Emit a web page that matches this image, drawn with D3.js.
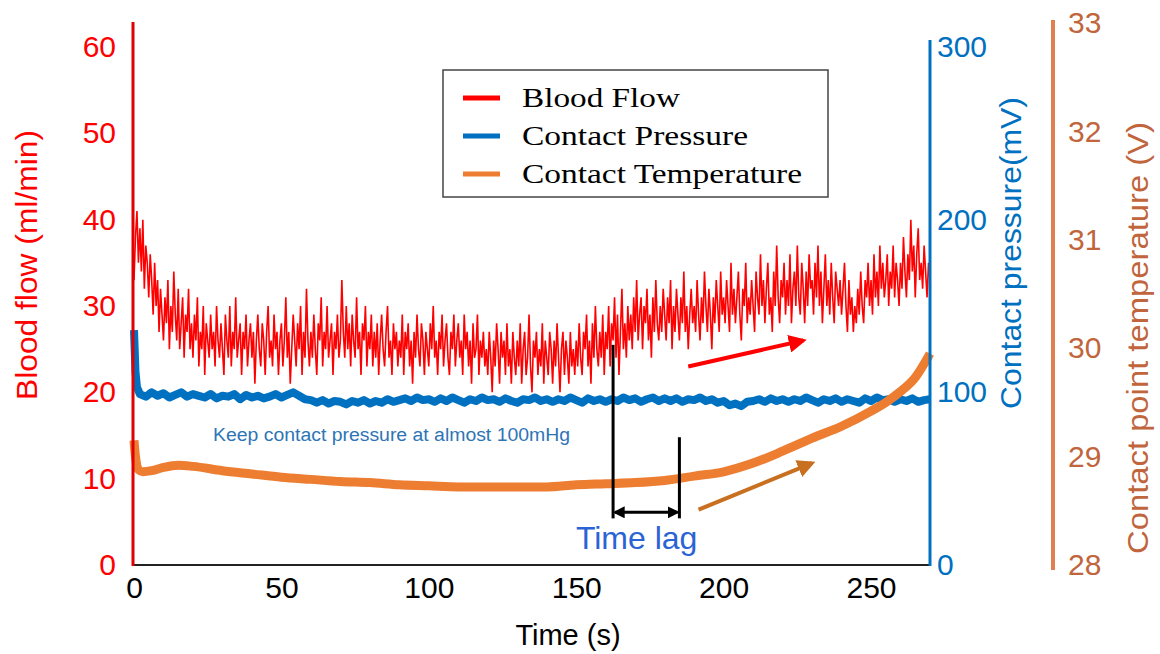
<!DOCTYPE html>
<html>
<head>
<meta charset="utf-8">
<script src="https://cdn.jsdelivr.net/npm/d3@7"></script>
<style>
  body { margin: 0; background: #fff; }
  svg { display: block; }
  text { font-family: "Liberation Sans", Arial, sans-serif; }
</style>
</head>
<body>
<div id="chart"></div>
<script>
// Blood flow (ml/min), one sample every 0.5 s, t = 0..270 (20 per row = 10 s)
const flowValues = [
  33, 38, 41, 35, 39, 34, 40, 32, 37, 35, 31, 36, 33, 29, 35, 30, 33, 27, 32, 29,
  26, 31, 28, 33, 25, 30, 27, 34, 29, 26, 32, 25, 28, 31, 24, 29, 27, 32, 25, 28,
  24, 29, 26, 31, 23, 27, 25, 30, 22, 28, 26, 24, 29, 25, 27, 23, 30, 26, 24, 28,
  25, 22, 29, 26, 24, 30, 23, 27, 25, 31, 24, 26, 28, 22, 27, 25, 29, 23, 26, 28,
  24, 27, 21, 26, 29, 25, 23, 28, 26, 22, 27, 30, 24, 26, 23, 29, 25, 27, 22, 26,
  28, 23, 26, 31, 24, 27, 21, 25, 29, 26, 23, 28, 25, 30, 22, 27, 24, 32, 26, 23,
  27, 24, 29, 25, 22, 28, 26, 31, 23, 27, 25, 30, 24, 26, 28, 22, 27, 25, 29, 24,
  26, 33, 27, 24, 30, 25, 28, 23, 29, 26, 24, 31, 25, 27, 22, 28, 26, 30, 23, 27,
  25, 29, 23, 27, 24, 28, 22, 26, 29, 25, 23, 27, 30, 24, 26, 22, 28, 25, 27, 23,
  26, 24, 29, 22, 27, 25, 28, 23, 26, 21, 27, 24, 29, 25, 23, 28, 26, 22, 27, 25,
  23, 28, 25, 30, 24, 26, 22, 27, 25, 29, 23, 26, 28, 24, 22, 27, 25, 29, 23, 26,
  28, 24, 26, 22, 29, 25, 27, 23, 26, 21, 28, 24, 25, 29, 22, 26, 24, 27, 23, 25,
  22, 27, 24, 20, 26, 23, 28, 25, 21, 27, 24, 26, 22, 28, 23, 25, 21, 27, 24, 22,
  26, 23, 28, 21, 25, 27, 22, 24, 29, 23, 20, 26, 24, 27, 22, 25, 23, 28, 21, 26,
  24, 22, 27, 25, 21, 26, 23, 28, 24, 20, 25, 27, 22, 26, 24, 21, 27, 23, 25, 22,
  26, 23, 28, 24, 22, 27, 25, 29, 23, 26, 21, 28, 24, 30, 25, 23, 27, 24, 29, 22,
  27, 25, 30, 23, 28, 26, 31, 24, 29, 22, 27, 32, 25, 28, 24, 30, 26, 29, 25, 31,
  27, 33, 26, 29, 31, 25, 30, 28, 32, 26, 29, 24, 31, 27, 33, 28, 26, 30, 27, 32,
  29, 26, 31, 28, 33, 25, 30, 27, 32, 29, 26, 31, 28, 34, 27, 30, 25, 29, 32, 28,
  30, 27, 33, 29, 26, 31, 28, 34, 30, 27, 32, 29, 25, 31, 28, 33, 30, 27, 34, 29,
  31, 28, 33, 30, 27, 35, 29, 32, 28, 31, 34, 29, 26, 32, 30, 35, 28, 31, 29, 33,
  30, 27, 34, 31, 29, 36, 30, 33, 28, 32, 35, 29, 31, 27, 34, 30, 37, 31, 28, 33,
  31, 35, 29, 33, 30, 36, 28, 32, 34, 30, 37, 31, 29, 35, 32, 28, 34, 30, 36, 32,
  33, 29, 35, 31, 37, 30, 34, 28, 32, 36, 30, 33, 29, 35, 31, 28, 34, 32, 30, 33,
  29, 32, 35, 30, 27, 33, 29, 31, 27, 30, 28, 32, 29, 34, 30, 28, 33, 31, 35, 30,
  33, 29, 36, 31, 34, 30, 37, 32, 35, 31, 33, 36, 30, 34, 32, 37, 31, 35, 33, 30,
  35, 32, 38, 34, 31, 36, 33, 40, 34, 37, 31, 36, 39, 33, 35, 32, 37, 34, 31, 35,
  33
];

// Contact pressure (mV): start spike, then one sample every 2 s from t = 2
const pressureHeadTimes = [0, 0.5, 1];
const pressureHeadValues = [136, 112, 103];
const pressureValues = [
  99, 97.5, 100, 98, 99.5, 97, 98.5, 100, 97.5, 99,
  98, 97, 99, 96.5, 98, 97.5, 99, 96, 98.5, 97,
  98, 96.5, 97.5, 99, 97, 98.5, 100, 98, 96, 95.5,
  94, 95.5, 93.5, 95, 94.5, 93, 95, 94, 95.5, 93.5,
  95, 94, 96, 94.5, 95.5, 96.5, 95, 97, 95.5, 96,
  94.5, 96.5, 95, 97, 95.5, 94, 96, 95, 97, 95.5,
  96, 94.5, 96.5, 95, 94, 96, 95.5, 97, 95, 96,
  94.5, 96, 95, 97, 95.5, 94, 96.5, 95, 96, 94.5,
  96, 95, 97, 95.5, 96.5, 94.5, 96, 97, 95, 96.5,
  95, 96.5, 94.5, 96, 95.5, 97, 95, 96, 94, 95,
  92.5, 93.5, 92, 94.5, 95, 96, 94.5, 96.5, 95, 96,
  94.5, 96, 95, 97, 95.5, 94, 96, 95, 96.5, 94.5,
  96, 95, 94, 96.5, 95, 97, 95.5, 96, 94.5, 96,
  95, 96.5, 94.5, 95.5, 96
];

// Contact temperature
const tempTimes = [0, 0.5, 1.5, 3, 6, 10, 15, 20, 30, 40, 50, 60, 70, 80, 90, 100, 110, 120, 130, 140,
  150, 160, 170, 180, 190, 200, 210, 220, 230, 240, 250, 255, 260, 265, 270];
const tempValues = [29.15, 29.0, 28.88, 28.86, 28.87, 28.9, 28.92, 28.91, 28.87, 28.84, 28.81, 28.79, 28.77,
  28.76, 28.74, 28.73, 28.72, 28.72, 28.72, 28.72, 28.74, 28.75, 28.76, 28.78, 28.82, 28.86, 28.94,
  29.05, 29.17, 29.28, 29.42, 29.5, 29.6, 29.73, 29.95];

const xTicks = [0, 50, 100, 150, 200, 250];
const flowTicks = [0, 10, 20, 30, 40, 50, 60];
const pressureTicks = [0, 100, 200, 300];
const tempTicks = [28, 29, 30, 31, 32, 33];

const legendNames = ["Blood Flow", "Contact Pressure", "Contact Temperature"];

// annotations (data units)
const lagStart = 162.5, lagEnd = 185;
const flowArrow = [[188, 23], [227, 26]];
const tempArrow = [[191.5, 28.51], [230, 28.94]];

const width = 1160, height = 654;
const RED = "#ff0000", BLUE = "#0070c0", ORANGE = "#ed7d31", BROWN = "#c0653c";

const svg = d3.select("#chart").append("svg")
  .attr("width", width).attr("height", height);
svg.append("rect").attr("width", width).attr("height", height).attr("fill", "#fff");

const x = d3.scaleLinear().domain([0, 270]).range([134, 930]);
const yFlow = d3.scaleLinear().domain([0, 60]).range([565, 47]);
const yPress = d3.scaleLinear().domain([0, 300]).range([565, 47]);
const yTemp = d3.scaleLinear().domain([28, 33]).range([565, 23]);

const flowData = flowValues.map((v, i) => [i * 0.5, v]);
const pressData = pressureHeadTimes.map((t, i) => [t, pressureHeadValues[i]])
  .concat(pressureValues.map((v, i) => [2 + i * 2, v]));
const tempData = tempTimes.map((t, i) => [t, tempValues[i]]);

// Series
svg.append("path").datum(pressData)
  .attr("fill", "none").attr("stroke", BLUE).attr("stroke-width", 8)
  .attr("stroke-linejoin", "round")
  .attr("d", d3.line().x(d => x(d[0])).y(d => yPress(d[1])));

svg.append("path").datum(tempData)
  .attr("fill", "none").attr("stroke", ORANGE).attr("stroke-width", 9)
  .attr("d", d3.line().curve(d3.curveMonotoneX).x(d => x(d[0])).y(d => yTemp(d[1])));

svg.append("path").datum(flowData)
  .attr("fill", "none").attr("stroke", RED).attr("stroke-width", 1.6)
  .attr("d", d3.line().x(d => x(d[0])).y(d => yFlow(d[1])));

// Axes
const axisFont = 30;
function styleAxis(g, color) {
  g.select(".domain").remove();
  g.selectAll("text").attr("fill", color).style("font-size", axisFont + "px")
    .style("font-family", "'Liberation Sans', Arial, sans-serif");
}

svg.append("g").attr("transform", "translate(134,0)")
  .call(d3.axisLeft(yFlow).tickValues(flowTicks).tickSize(0).tickPadding(18))
  .call(g => styleAxis(g, RED));

svg.append("g").attr("transform", "translate(930,0)")
  .call(d3.axisRight(yPress).tickValues(pressureTicks).tickSize(0).tickPadding(7))
  .call(g => styleAxis(g, BLUE));

svg.append("g").attr("transform", "translate(1053,0)")
  .call(d3.axisRight(yTemp).tickValues(tempTicks).tickFormat(d3.format("d")).tickSize(0).tickPadding(15))
  .call(g => styleAxis(g, BROWN));

svg.append("g").attr("transform", "translate(0,565)")
  .call(d3.axisBottom(x).tickValues(xTicks).tickSize(0).tickPadding(12))
  .call(g => styleAxis(g, "#000"));

// Axis lines
svg.append("line").attr("x1", 133).attr("x2", 930).attr("y1", 565).attr("y2", 565)
  .attr("stroke", "#222").attr("stroke-width", 2);
svg.append("line").attr("x1", 133).attr("x2", 133).attr("y1", 22).attr("y2", 566)
  .attr("stroke", "#e00000").attr("stroke-width", 3);
svg.append("line").attr("x1", 930).attr("x2", 930).attr("y1", 40).attr("y2", 566)
  .attr("stroke", BLUE).attr("stroke-width", 3);
svg.append("line").attr("x1", 1053).attr("x2", 1053).attr("y1", 20).attr("y2", 570)
  .attr("stroke", "#e08050").attr("stroke-width", 4);

// Axis titles
function vTitle(cx, cy, color, len, txt) {
  svg.append("text").attr("transform", `translate(${cx},${cy}) rotate(-90)`)
    .attr("text-anchor", "middle").attr("fill", color).style("font-size", "29px")
    .attr("textLength", len).attr("lengthAdjust", "spacingAndGlyphs")
    .text(txt);
}
vTitle(37, 265, RED, 270, "Blood flow (ml/min)");
vTitle(1021, 253, BLUE, 312, "Contact pressure(mV)");
vTitle(1148, 338, BROWN, 432, "Contact point temperature (V)");

svg.append("text").attr("x", 568).attr("y", 645)
  .attr("text-anchor", "middle").attr("fill", "#000").style("font-size", "29px")
  .text("Time (s)");

// Annotations
svg.append("text").attr("x", x(26.8)).attr("y", 441)
  .attr("fill", "#2e75b6").style("font-size", "18px")
  .attr("textLength", 357).attr("lengthAdjust", "spacingAndGlyphs")
  .text("Keep contact pressure at almost 100mHg");

const defs = svg.append("defs");
function marker(id, color, w) {
  defs.append("marker").attr("id", id).attr("viewBox", "0 0 10 10")
    .attr("refX", 8).attr("refY", 5).attr("markerWidth", w).attr("markerHeight", w)
    .attr("orient", "auto-start-reverse").attr("markerUnits", "userSpaceOnUse")
    .append("path").attr("d", "M0,0 L10,5 L0,10 z").attr("fill", color);
}
marker("arRed", RED, 18);
marker("arOrange", "#c87020", 18);
marker("arBlack", "#000", 12);

svg.append("line")
  .attr("x1", x(flowArrow[0][0])).attr("y1", yFlow(flowArrow[0][1]))
  .attr("x2", x(flowArrow[1][0])).attr("y2", yFlow(flowArrow[1][1]))
  .attr("stroke", RED).attr("stroke-width", 4).attr("marker-end", "url(#arRed)");
svg.append("line")
  .attr("x1", x(tempArrow[0][0])).attr("y1", yTemp(tempArrow[0][1]))
  .attr("x2", x(tempArrow[1][0])).attr("y2", yTemp(tempArrow[1][1]))
  .attr("stroke", "#c87020").attr("stroke-width", 4).attr("marker-end", "url(#arOrange)");

svg.append("line").attr("x1", x(lagStart)).attr("x2", x(lagStart))
  .attr("y1", yFlow(25.5)).attr("y2", yFlow(5.4)).attr("stroke", "#000").attr("stroke-width", 3);
svg.append("line").attr("x1", x(lagEnd)).attr("x2", x(lagEnd))
  .attr("y1", yFlow(14.8)).attr("y2", yFlow(5.4)).attr("stroke", "#000").attr("stroke-width", 3);
svg.append("line").attr("x1", x(lagStart) + 2).attr("x2", x(lagEnd) - 2)
  .attr("y1", yFlow(6.1)).attr("y2", yFlow(6.1)).attr("stroke", "#000").attr("stroke-width", 3)
  .attr("marker-start", "url(#arBlack)").attr("marker-end", "url(#arBlack)");
svg.append("text").attr("x", x(lagStart + 8)).attr("y", 549)
  .attr("text-anchor", "middle").attr("fill", "#2a63d6").style("font-size", "32px")
  .text("Time lag");

// Legend
const legend = svg.append("g").attr("transform", "translate(443,70)");
legend.append("rect").attr("width", 385).attr("height", 127)
  .attr("fill", "#fff").attr("stroke", "#444").attr("stroke-width", 1.5);
const legendColors = [RED, BLUE, ORANGE];
const legendWidths = [158, 226, 280];
legendNames.forEach((name, i) => {
  const yy = 28 + i * 38;
  legend.append("line").attr("x1", 20).attr("x2", 57).attr("y1", yy).attr("y2", yy)
    .attr("stroke", legendColors[i]).attr("stroke-width", 5);
  legend.append("text").attr("x", 79).attr("y", yy + 9)
    .style("font-family", "'Liberation Serif', 'Times New Roman', serif")
    .style("font-size", "28px").attr("fill", "#000")
    .attr("textLength", legendWidths[i]).attr("lengthAdjust", "spacingAndGlyphs")
    .text(name);
});
</script>
</body>
</html>
